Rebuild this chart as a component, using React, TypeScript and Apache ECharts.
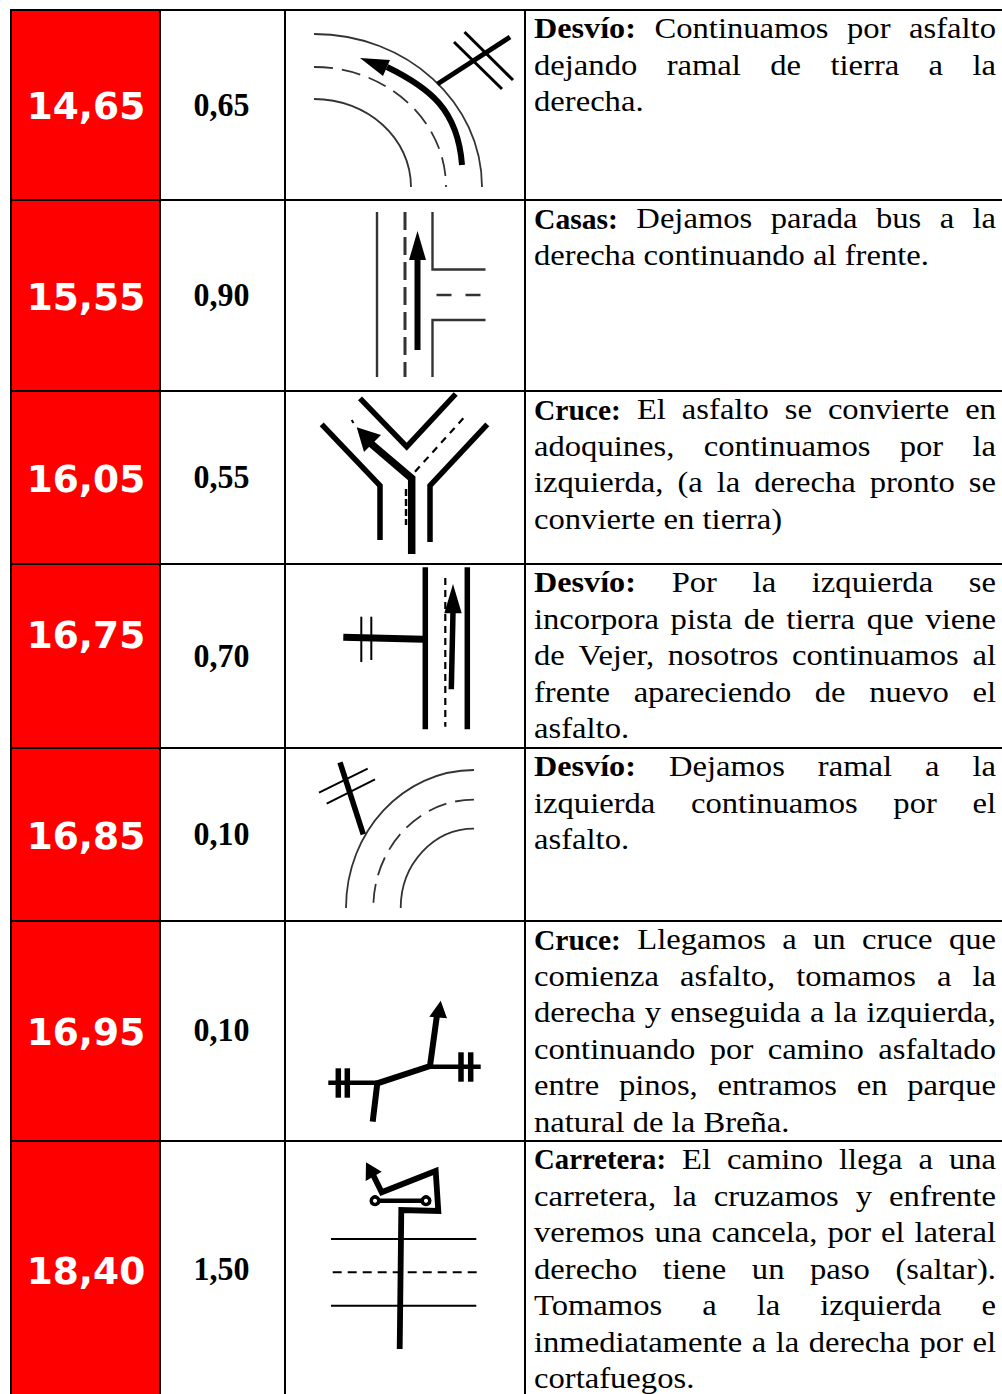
import React, { useEffect, useRef } from "react";
import * as echarts from "echarts";

const kmLabels = ["14,65", "15,55", "16,05", "16,75", "16,85", "16,95", "18,40"];
const partialLabels = ["0,65", "0,90", "0,55", "0,70", "0,10", "0,10", "1,50"];
const heads = ["Desvío:", "Casas:", "Cruce:", "Desvío:", "Desvío:", "Cruce:", "Carretera:"];
const bodyLines = [
  ["Continuamos por asfalto", "dejando ramal de tierra a la", "derecha."],
  ["Dejamos parada bus a la", "derecha continuando al frente."],
  ["El asfalto se convierte en", "adoquines, continuamos por la", "izquierda, (a la derecha pronto se", "convierte en tierra)"],
  ["Por la izquierda se", "incorpora pista de tierra que viene", "de Vejer, nosotros continuamos al", "frente apareciendo de nuevo el", "asfalto."],
  ["Dejamos ramal a la", "izquierda continuamos por el", "asfalto."],
  ["Llegamos a un cruce que", "comienza asfalto, tomamos a la", "derecha y enseguida a la izquierda,", "continuando por camino asfaltado", "entre pinos, entramos en parque", "natural de la Breña."],
  ["El camino llega a una", "carretera, la cruzamos y enfrente", "veremos una cancela, por el lateral", "derecho tiene un paso (saltar).", "Tomamos a la izquierda e", "inmediatamente a la derecha por el", "cortafuegos."],
];

const rowTops = [10, 200, 391, 564, 748, 921, 1141];
const kmCenters = [106, 297, 479, 635, 836, 1032, 1271];
const partialCenters = [105, 295, 477, 656, 834, 1030, 1269];
const headWidths = [102, 84, 87, 102, 102, 87, 132];
const colLines = [11, 160, 285, 525];
const BODY_FONT = "Liberation Serif";
const BODY_SIZE = 30;
const BODY_LEFT = 534;
const BODY_RIGHT = 996;
const LINE_H = 36.55;

type P = [number, number];
const INK = "#000";
const THIN = "#333";
const ROAD_DASH = [19, 9];

function line(a: P, b: P, w: number, stroke = INK, dash?: number[]) {
  return {
    type: "line",
    shape: { x1: a[0], y1: a[1], x2: b[0], y2: b[1] },
    style: { stroke, lineWidth: w, lineDash: dash, fill: "none" },
    silent: true,
  };
}
function poly(points: P[], w: number, stroke = INK) {
  return {
    type: "polyline",
    shape: { points },
    style: { stroke, lineWidth: w, fill: "none", lineJoin: "miter" },
    silent: true,
  };
}
function head(points: P[]) {
  return { type: "polygon", shape: { points }, style: { fill: INK }, silent: true };
}
function curve(p0: P, c1: P, c2: P, p3: P, w: number, stroke = THIN, dash?: number[]) {
  return {
    type: "bezierCurve",
    shape: { x1: p0[0], y1: p0[1], cpx1: c1[0], cpy1: c1[1], cpx2: c2[0], cpy2: c2[1], x2: p3[0], y2: p3[1] },
    style: { stroke, lineWidth: w, fill: "none", lineDash: dash },
    silent: true,
  };
}
const K = 0.5523;
function quarter(cx: number, cy: number, rx: number, ry: number, sx: number, w: number, dash?: number[]) {
  return curve(
    [cx, cy - ry],
    [cx + sx * K * rx, cy - ry],
    [cx + sx * rx, cy - K * ry],
    [cx + sx * rx, cy],
    w,
    THIN,
    dash
  );
}
function ringEl(c: P, r: number) {
  return {
    type: "circle",
    shape: { cx: c[0], cy: c[1], r },
    style: { fill: "#fff", stroke: INK, lineWidth: 3.5 },
    silent: true,
  };
}

function icons(): any[] {
  return [
    // row 1
    quarter(314, 187, 168, 153, 1, 1.8),
    quarter(314, 187, 132, 120, 1, 1.8, ROAD_DASH),
    quarter(314, 187, 97, 88, 1, 1.8),
    curve([462, 165], [458, 110], [430, 88], [387, 67], 6, INK),
    head([[360, 58], [390, 60], [383, 76]]),
    line([437.5, 84], [510, 37], 5),
    line([454, 42], [502, 89], 3),
    line([464.5, 32], [513, 80], 3),
    // row 2
    line([377, 212], [377, 377], 2.4, THIN),
    line([405, 212], [405, 377], 3, THIN, [18, 7]),
    poly([[432.5, 212], [432.5, 269.5], [485.5, 269.5]], 2.4, THIN),
    poly([[485.5, 320], [432.5, 320], [432.5, 377]], 2.4, THIN),
    line([436.5, 295], [485.5, 295], 2.4, THIN, [15, 14]),
    line([417.5, 350], [417.5, 258], 6),
    head([[417.5, 231], [409, 260], [426, 260]]),
    // row 3
    poly([[321.7, 424.3], [380, 485.7], [380, 540]], 5.5),
    poly([[360, 398.3], [406.7, 446.7], [455.7, 394]], 5.5),
    poly([[487.3, 424.3], [430, 485.7], [430, 542]], 5.5),
    line([463.3, 418.3], [415, 471.7], 2.2, INK, [7, 6]),
    line([351.7, 420], [353.5, 423], 2),
    line([406, 489], [406, 525], 2.4, INK, [7, 3]),
    poly([[411.7, 554], [411.7, 478.3], [366.7, 440]], 7.5),
    head([[356.7, 427.3], [381, 435], [364, 452]]),
    // row 4
    line([425.3, 567.3], [425.3, 729.3], 5.5),
    line([467.3, 567.3], [467.3, 729.3], 5.5),
    line([445.3, 578], [445.3, 726.7], 2.2, INK, [7, 5]),
    line([451.3, 689.3], [453, 611.7], 5.5),
    head([[453, 584], [444.3, 613.3], [461.7, 613.3]]),
    line([343.3, 637.3], [423.3, 639.3], 7),
    line([361.3, 616.7], [361.3, 662], 2),
    line([371.3, 616.7], [371.3, 660], 2),
    // row 5
    quarter(474, 908, 128, 138, -1, 1.8),
    quarter(474, 908, 100.7, 108.4, -1, 1.8, ROAD_DASH),
    quarter(474, 908, 73.3, 79.4, -1, 1.8),
    line([340, 762.3], [363.3, 834.3], 5.5),
    line([319, 792.7], [367.7, 768.7], 2),
    line([326.7, 803.7], [375, 779.3], 2),
    // row 6
    poly([[372.7, 1121.7], [377.3, 1083.3], [430, 1066], [437, 1015]], 6),
    head([[440.7, 1000.7], [429.3, 1016.7], [447, 1018.3]]),
    line([328.3, 1082.7], [377.3, 1082.7], 4.5),
    line([430, 1066.7], [480.7, 1066.7], 4.5),
    line([338.3, 1068.3], [338.3, 1097.7], 5.5),
    line([347.3, 1068.3], [347.3, 1097.7], 5.5),
    line([461, 1052.3], [461, 1081.7], 5.5),
    line([470.7, 1052.3], [470.7, 1081.7], 5.5),
    // row 7
    line([331, 1239], [476.3, 1239], 2),
    line([331, 1305.7], [476.3, 1305.7], 2),
    line([332.7, 1272.3], [478.3, 1272.3], 2, INK, [9, 6]),
    poly([[399.7, 1349], [401.3, 1210], [438.3, 1211], [435.7, 1171], [381.7, 1192.3], [372.3, 1173.3]], 5.8),
    head([[366, 1162.3], [365.7, 1181], [381.7, 1171.7]]),
    line([375, 1200.7], [426, 1200.7], 4.5),
    ringEl([375, 1200.7], 3.8),
    ringEl([426, 1200.7], 3.8),
  ];
}

function buildElements(): any[] {
  const ctx = document.createElement("canvas").getContext("2d")!;
  const measure = (s: string, font: string) => {
    ctx.font = font;
    return ctx.measureText(s).width;
  };
  const regular = `${BODY_SIZE}px "${BODY_FONT}"`;
  const bold = `bold ${BODY_SIZE}px "${BODY_FONT}"`;
  const squeeze = 395 / measure("derecha continuando al frente.", regular);
  const els: any[] = [];

  els.push({ type: "rect", shape: { x: 11, y: 10, width: 149, height: 1384 }, style: { fill: "#ff0000" }, silent: true });
  colLines.forEach((x) =>
    els.push({ type: "rect", shape: { x: x - 1, y: 9, width: 2, height: 1385 }, style: { fill: INK }, silent: true })
  );
  rowTops.forEach((y) =>
    els.push({ type: "rect", shape: { x: 10, y: y - 1, width: 992, height: 2 }, style: { fill: INK }, silent: true })
  );

  kmLabels.forEach((t, i) =>
    els.push({
      type: "text",
      x: 86,
      y: kmCenters[i],
      silent: true,
      style: { text: t, fill: "#fff", font: 'bold 37.5px "DejaVu Sans"', textAlign: "center", textVerticalAlign: "middle" },
    })
  );
  partialLabels.forEach((t, i) =>
    els.push({
      type: "text",
      x: 221.5,
      y: partialCenters[i],
      scaleX: 0.94,
      silent: true,
      style: { text: t, fill: "#000", font: 'bold 34px "Liberation Serif"', textAlign: "center", textVerticalAlign: "middle" },
    })
  );

  bodyLines.forEach((lines, r) => {
    lines.forEach((ln, l) => {
      const tokens = ln.split(" ").map((w) => ({ t: w, b: false, s: squeeze }));
      if (l === 0) tokens.unshift({ t: heads[r], b: true, s: headWidths[r] / measure(heads[r], bold) });
      const widths = tokens.map((k) => measure(k.t, k.b ? bold : regular) * k.s);
      const sum = widths.reduce((a, b) => a + b, 0);
      const natural = measure(" ", regular) * squeeze;
      const last = l === lines.length - 1;
      const gap = last ? natural : (BODY_RIGHT - BODY_LEFT - sum) / (tokens.length - 1);
      let x = BODY_LEFT;
      const y = rowTops[r] + 3 + l * LINE_H;
      tokens.forEach((k, i) => {
        els.push({
          type: "text",
          x,
          y,
          scaleX: k.s,
          silent: true,
          style: {
            text: k.t,
            fill: "#000",
            font: k.b ? bold : regular,
            textAlign: "left",
            textVerticalAlign: "top",
          },
        });
        x += widths[i] + gap;
      });
    });
  });

  return els.concat(icons());
}

export default function App() {
  const ref = useRef<HTMLDivElement>(null);
  useEffect(() => {
    document.body.style.margin = "0";
    document.body.style.overflow = "hidden";
    const chart = echarts.init(ref.current!, undefined, { renderer: "svg" });
    chart.setOption({
      animation: false,
      backgroundColor: "#fff",
      graphic: { elements: buildElements() },
    });
    return () => chart.dispose();
  }, []);
  return <div ref={ref} style={{ width: 1002, height: 1394 }} />;
}
